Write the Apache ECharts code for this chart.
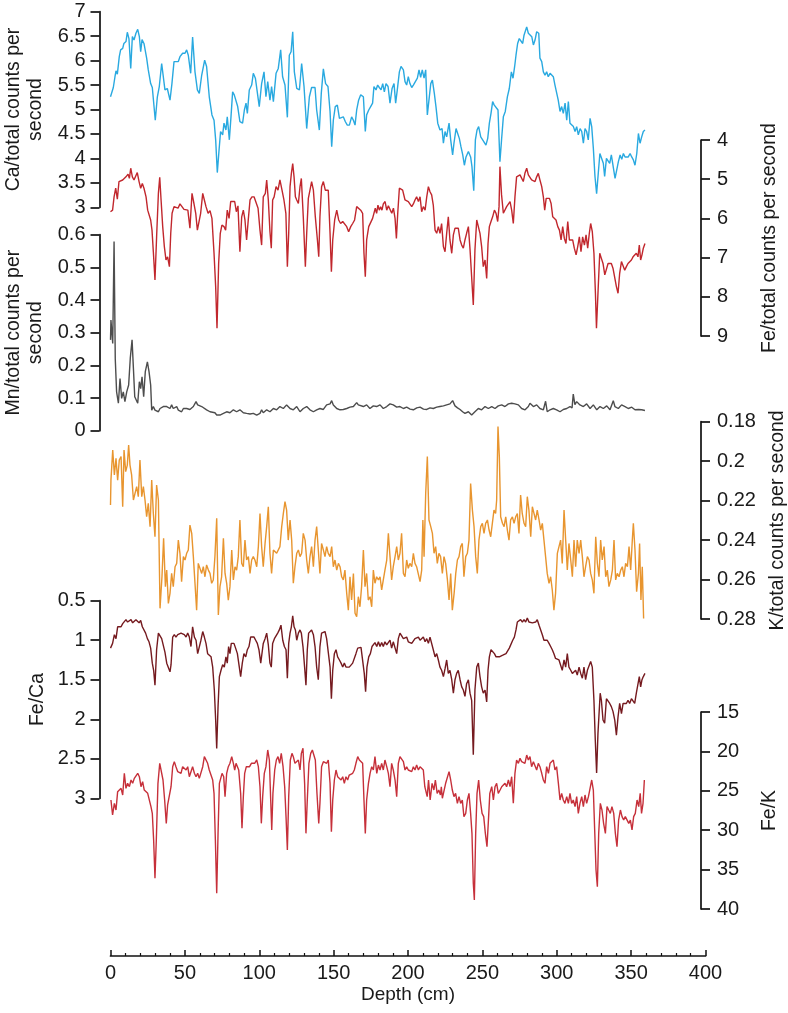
<!DOCTYPE html>
<html><head><meta charset="utf-8">
<script src="https://cdn.jsdelivr.net/npm/echarts@6/dist/echarts.min.js"></script>
<style>html,body{margin:0;padding:0;background:#fff}#c{width:788px;height:1013px}</style>
</head><body><div id="c"></div><script>
// Depth (cm) tick labels
const depthTicks = [0,50,100,150,200,250,300,350,400];

// Ca/total counts per second  [depth, value]
const ca = [[0,5.26],[1.9,5.45],[3,5.67],[3.7,5.79],[4.6,5.72],[5.9,6.08],[6.8,6.22],[8.2,6.25],[9,6.35],[10.4,6.39],[11.3,6.58],[12.4,6.45],[13.6,5.84],[14.7,6.49],[15.8,6.42],[17.1,6.56],[18.3,6.64],[19.4,6.49],[20.3,6.18],[21.2,6.43],[22.5,6.35],[24.3,6.05],[25.4,5.81],[27,5.53],[28.1,5.45],[30.1,4.78],[31.5,5.26],[32.8,5.47],[34.4,5.94],[35.5,5.98],[36.6,5.40],[38.2,5.43],[40,5.19],[41.3,5.53],[42.7,5.98],[44,6.01],[45.6,5.98],[46.7,6.08],[48.5,6.15],[50.1,6.15],[51.2,6.22],[52.3,6.11],[53.9,5.74],[55.2,6.48],[56.8,5.77],[58.4,5.40],[59.7,5.33],[61.3,5.70],[63.3,6.01],[64.6,5.88],[66.4,5.26],[68.2,4.89],[69.6,4.78],[70.7,4.38],[71.8,3.71],[72.9,4.14],[74,4.55],[75.4,4.48],[76.3,4.72],[77.6,4.58],[78.5,4.85],[79.9,4.38],[81,4.85],[82.1,5.36],[83.2,5.30],[84.4,5.26],[85.5,5.06],[87,4.75],[88.8,4.72],[90,4.99],[91.1,5.13],[92,4.92],[93.3,5.40],[94.9,5.50],[96,5.74],[97.4,5.64],[98.7,5.60],[100,5.06],[101.6,5.53],[103.2,5.77],[104.5,5.26],[105.7,5.57],[107.2,5.19],[108.3,5.47],[109.5,5.16],[111.3,5.74],[112.8,5.84],[114.4,6.22],[115.7,5.67],[117.3,5.50],[118.9,4.84],[120.2,6.11],[121.4,6.18],[122.5,6.59],[123.6,5.77],[125.2,5.43],[127,5.40],[128.5,5.94],[130.1,5.47],[131.9,4.61],[133.7,5.26],[135.2,5.45],[137.5,5.45],[138.6,4.99],[140.4,4.58],[141.7,5.33],[143.1,5.83],[144.6,5.53],[146.2,5.47],[147.6,4.96],[148.7,4.24],[149.8,4.78],[151.1,5.06],[152.5,5.09],[153.9,4.82],[155.2,4.78],[156.5,4.85],[157.9,4.75],[159.2,4.68],[160.6,4.68],[162.1,4.85],[163.3,4.78],[164.4,4.68],[165.5,4.99],[166.8,5.19],[168.2,5.30],[170,5.26],[171.3,4.55],[172.2,4.89],[173.6,4.99],[174.9,5.06],[176.2,5.13],[177.1,5.47],[178.5,5.40],[179.6,5.50],[180.7,5.45],[181.9,5.40],[183,5.53],[184.1,5.36],[185.2,5.53],[186.6,5.47],[187.9,5.13],[189.3,5.43],[190.6,5.53],[191.7,5.13],[192.8,5.40],[194.2,5.77],[195.3,5.88],[196.9,5.81],[198,5.57],[199.1,5.50],[200.2,5.67],[201.3,5.53],[202.5,5.45],[203.6,5.50],[204.7,5.53],[206.3,5.64],[207.4,5.81],[208.5,5.66],[209.6,5.81],[210.8,5.64],[211.9,5.81],[213,4.89],[214.1,4.89],[215.3,5.53],[216.4,5.60],[217.7,5.33],[218.8,5.06],[220,4.72],[221.5,4.58],[222.9,4.61],[223.8,4.31],[224.9,4.55],[226,4.44],[227.6,4.72],[228.7,4.38],[230,4.07],[230.9,4.31],[232.3,4.61],[233.4,4.51],[234.5,4.41],[235.6,4.24],[236.8,4.07],[237.9,3.86],[239,4.03],[240.6,4.14],[242.1,4.03],[243,3.83],[244.2,3.34],[245.3,4.38],[246.4,4.58],[247.5,4.65],[248.9,4.44],[250.2,4.38],[251.3,4.34],[252.4,4.27],[253.6,4.41],[254.7,4.72],[255.8,4.92],[256.9,5.16],[258,5.09],[259.2,5.06],[260.5,4.99],[261.8,3.93],[262.9,4.38],[264.1,4.85],[265.4,4.96],[266.8,5.26],[268.1,5.43],[269.5,5.77],[270.6,5.64],[271.7,5.88],[272.6,6.11],[273.7,6.35],[274.8,6.45],[276,6.43],[277.1,6.35],[278,6.52],[278.9,6.49],[279.8,6.69],[280.9,6.56],[282,6.59],[283.2,6.49],[284.3,6.32],[285.4,6.42],[286.5,6.59],[287.9,6.56],[288.7,6.05],[289.9,5.98],[291,5.77],[292.1,5.70],[293.2,5.77],[294.3,5.67],[295.5,5.74],[296.6,5.70],[297.7,5.67],[298.8,5.50],[300,5.47],[301,5.19],[302.2,4.96],[303.3,5.06],[304.4,4.92],[305.6,5.13],[306.7,4.78],[307.8,5.16],[308.9,4.72],[310,4.72],[311.2,4.65],[312.3,4.55],[313.4,4.65],[314.5,4.48],[315.7,4.61],[316.8,4.55],[317.9,4.31],[319,4.61],[320.1,4.55],[321.2,4.38],[322.4,4.82],[323.5,4.65],[324.6,4.21],[325.7,3.63],[326.8,3.28],[327.9,3.69],[329,4.10],[330.2,4.14],[331.3,3.90],[332.2,3.63],[333.4,4.00],[334.5,4.03],[335.6,3.90],[336.7,4.07],[338.1,3.80],[339.2,3.59],[340.3,3.59],[341.4,3.93],[342.6,4.07],[343.7,3.98],[344.8,4.10],[345.9,4.03],[347,4.07],[348.1,4.03],[349.3,4.10],[350.4,4.03],[351.5,3.97],[352.6,3.86],[353.8,4.10],[354.9,4.51],[356,4.31],[357.1,4.44],[358.2,4.55],[359.3,4.58]];

// Fe/total counts per second
const fe = [[0,5.83],[1.4,5.79],[2.4,5.45],[3.5,5.23],[4.6,5.51],[5.7,5.06],[6.8,5.11],[8.2,5.02],[9.3,5.06],[10.4,4.94],[11.8,4.87],[12.7,4.98],[13.6,4.72],[14.7,4.94],[15.8,5.02],[16.7,4.98],[18,4.83],[19.2,5.06],[20.3,5.23],[21.4,5.11],[22.5,5.23],[23.9,5.45],[25,5.79],[25.9,5.74],[27,6.04],[27.9,6.30],[28.8,6.85],[29.9,7.57],[31,6.47],[32.2,5.36],[33.1,4.95],[34,5.53],[35.1,6.21],[36.2,6.72],[37.3,7.06],[38.4,6.98],[39.6,7.23],[40.5,6.38],[41.4,5.87],[42.7,5.70],[44,5.68],[45.4,5.74],[46.7,5.63],[48,5.68],[49.4,5.77],[50.7,5.74],[52,5.79],[53.4,6.25],[54.8,5.36],[56.1,5.62],[57.3,5.87],[58.4,6.30],[59.5,6.25],[60.6,5.87],[62,5.36],[63.1,5.53],[64.2,5.70],[65.6,5.87],[66.9,5.80],[68.2,6.00],[69.6,6.89],[70.7,7.74],[71.6,8.80],[72.7,7.15],[73.8,6.38],[74.9,6.17],[76.3,6.21],[77.4,6.30],[78.5,5.79],[79.7,6.00],[80.8,5.57],[82.1,5.53],[83.5,5.57],[84.6,5.83],[85.7,5.68],[87,6.85],[88.2,5.96],[89.3,5.79],[90.4,6.04],[91.5,6.55],[92.7,6.00],[93.8,5.53],[95.1,5.45],[96.5,5.45],[97.8,5.49],[99.2,5.74],[100.5,6.30],[101.6,6.68],[102.7,5.45],[104.1,5.36],[105,5.02],[106.1,5.53],[107.2,6.34],[108.1,6.76],[109,5.53],[110,5.45],[111.3,5.19],[112.6,5.28],[113.9,5.02],[115.3,5.28],[116.6,5.53],[117.9,5.87],[118.9,7.23],[119.8,6.38],[120.7,5.19],[121.6,4.85],[122.5,4.60],[123.4,4.94],[124.3,5.45],[125.2,5.53],[126.3,5.62],[127.4,5.19],[128.3,4.98],[129.6,5.96],[131,7.23],[131.9,6.38],[133,5.49],[134.1,5.28],[135.2,5.06],[136.4,5.28],[137.7,5.96],[139.1,6.55],[140,6.98],[140.8,5.96],[141.9,5.19],[143.1,5.06],[144.4,5.28],[145.3,5.23],[146.4,5.28],[147.6,6.38],[148.5,7.36],[149.4,6.55],[150.7,6.04],[152.1,5.79],[153.4,6.04],[154.7,6.13],[156.1,6.08],[157.4,6.13],[158.8,6.21],[160.1,6.34],[161.5,6.21],[162.8,6.13],[164.1,6.04],[165.5,5.70],[166.8,5.74],[168.2,5.79],[169.5,5.87],[170.4,6.89],[171.3,7.49],[172.2,6.55],[173.6,6.21],[174.9,6.17],[176.2,6.00],[177.1,6.04],[178,5.74],[178.9,5.87],[179.8,5.66],[180.7,5.79],[181.6,5.70],[182.5,5.79],[183.4,5.63],[184.6,5.57],[185.7,5.79],[186.8,5.68],[188,5.63],[189.1,5.87],[190.2,5.74],[191.3,6.00],[192.2,6.51],[193.1,5.87],[194.2,5.23],[195.3,5.21],[196.4,5.28],[198,5.53],[199.1,5.49],[200.2,5.57],[201.3,5.62],[202.5,5.70],[203.6,5.63],[204.7,5.53],[205.8,5.45],[207,5.57],[208.1,5.45],[209.2,5.83],[210.3,5.70],[211.5,5.79],[212.6,5.45],[213.7,5.19],[214.8,5.32],[215.9,5.40],[217,5.66],[218.2,6.30],[219.3,6.38],[220.4,6.21],[221.5,6.38],[222.6,6.13],[223.8,6.72],[224.9,6.85],[226,6.38],[227.1,5.96],[228.2,6.55],[229.4,6.89],[230.5,6.42],[231.6,6.25],[232.7,6.30],[233.8,6.25],[235,6.55],[236.1,6.68],[237.2,6.76],[238.3,6.55],[239.4,6.38],[240.6,6.21],[241.7,6.79],[242.8,6.76],[243.9,8.21],[245,6.81],[246.2,6.04],[247.3,6.08],[248.4,6.38],[249.5,6.72],[250.6,7.23],[251.8,7.06],[252.9,7.53],[253.8,6.64],[254.7,6.21],[255.8,6.08],[256.9,5.96],[258.1,5.79],[259.2,5.87],[260.3,6.08],[261.2,5.70],[261.8,4.68],[262.9,5.40],[264.1,5.87],[265.2,5.87],[266.3,5.70],[267.4,5.74],[268.6,5.57],[269.7,5.79],[270.8,6.13],[271.9,5.45],[273,4.94],[274.2,4.89],[275.3,4.89],[276.4,4.85],[277.5,5.06],[278.6,4.85],[279.8,4.72],[280.9,4.89],[282,4.94],[283.1,5.02],[284.3,4.98],[285.4,5.06],[286.5,4.94],[287.6,4.85],[288.7,5.02],[289.9,5.19],[291,5.45],[291.9,5.79],[292.9,5.49],[294,5.53],[295.1,5.49],[296.2,5.62],[297.3,5.96],[298.4,6.00],[299.5,6.04],[300.7,6.21],[301.8,6.30],[302.9,6.55],[304,6.21],[305.1,6.51],[306.2,6.64],[307.4,6.08],[308.5,6.55],[309.6,6.59],[310.7,6.55],[311.8,6.76],[313,6.93],[314.1,6.72],[315.2,6.47],[316.3,6.85],[317.4,6.47],[318.6,6.68],[319.7,6.42],[320.8,6.76],[321.9,6.38],[322.8,6.13],[323.9,6.34],[325,6.89],[326,7.91],[326.7,8.80],[327.8,7.83],[328.9,6.89],[330,7.02],[331.1,7.15],[332.3,7.44],[333.4,7.49],[334.5,7.15],[335.6,7.10],[336.7,7.15],[337.8,7.27],[339,7.23],[340.1,7.74],[341.2,7.91],[342.3,7.40],[343.5,7.10],[344.6,7.15],[345.7,7.32],[346.8,7.23],[347.9,7.15],[349,7.19],[350.2,7.06],[351.3,6.98],[352.4,7.02],[353.5,6.89],[354.6,6.98],[355.5,6.68],[356.4,7.06],[357.3,6.93],[358.2,6.76],[359.3,6.64]];

// Mn/total counts per second
const mn = [[0,0.278],[0.3,0.339],[1.5,0.267],[2.4,0.579],[3.2,0.22],[4.1,0.119],[5.3,0.084],[6.4,0.160],[7.5,0.099],[8.6,0.119],[9.7,0.089],[10.9,0.119],[12.2,0.140],[13.3,0.222],[14.5,0.278],[15.4,0.191],[16.3,0.104],[17.3,0.104],[18.3,0.084],[19.4,0.150],[20.3,0.129],[21.2,0.165],[22.3,0.104],[23.4,0.181],[24.8,0.211],[25.9,0.181],[27,0.140],[27.7,0.063],[28.8,0.074],[29.9,0.063],[31,0.068],[32.2,0.058],[33.3,0.068],[34.4,0.063],[35.5,0.074],[36.6,0.068],[37.8,0.074],[38.9,0.079],[40,0.068],[41.1,0.079],[42.2,0.068],[43.4,0.063],[44.5,0.074],[45.6,0.063],[46.7,0.068],[47.8,0.058],[49,0.068],[50.1,0.063],[51.2,0.068],[52.3,0.063],[53.4,0.065],[55.7,0.074],[57.5,0.089],[58.6,0.079],[59.7,0.082],[61.3,0.074],[62.4,0.072],[64.6,0.064],[66.9,0.058],[70.2,0.055],[71.4,0.048],[73.6,0.048],[75.9,0.053],[78.1,0.058],[80.3,0.055],[82.6,0.064],[84.8,0.058],[87,0.064],[89.3,0.055],[91.5,0.053],[93.8,0.051],[96,0.053],[98.3,0.048],[100.5,0.053],[101.6,0.064],[102.7,0.055],[105,0.064],[107.2,0.058],[109.5,0.068],[111.7,0.064],[113.9,0.074],[116.2,0.068],[118.4,0.079],[120.7,0.068],[122.9,0.064],[125.2,0.074],[127.4,0.058],[129.6,0.068],[131.9,0.074],[134.1,0.064],[136.4,0.058],[138.6,0.064],[140.8,0.068],[143.1,0.065],[145.3,0.079],[147.6,0.082],[148.7,0.092],[149.8,0.079],[152.1,0.068],[154.3,0.064],[156.5,0.065],[158.8,0.068],[161,0.072],[163.3,0.074],[165.5,0.086],[166.6,0.079],[167.7,0.084],[170,0.074],[172.2,0.079],[174.4,0.068],[176.7,0.076],[178.9,0.074],[181.2,0.079],[183.4,0.068],[185.7,0.074],[187.9,0.082],[190.1,0.079],[192.4,0.072],[194.6,0.074],[196.9,0.068],[199.1,0.072],[201.4,0.066],[203.6,0.064],[205.9,0.07],[208.1,0.072],[210.4,0.066],[212.6,0.065],[214.8,0.07],[217,0.068],[219.3,0.072],[221.5,0.074],[223.8,0.076],[226,0.079],[228.2,0.082],[230,0.092],[231.6,0.076],[233.3,0.07],[235,0.065],[236.7,0.058],[238.3,0.053],[240.6,0.058],[242.8,0.048],[245,0.058],[247.3,0.068],[249.5,0.064],[251.8,0.074],[254,0.068],[256.3,0.074],[258.5,0.068],[260.7,0.076],[263,0.079],[265.2,0.074],[267.5,0.082],[268.6,0.086],[269.7,0.084],[271.9,0.082],[274.2,0.079],[276.4,0.068],[278.7,0.064],[280.9,0.074],[282,0.084],[284.3,0.074],[286.5,0.079],[288.7,0.068],[291,0.064],[292.5,0.09],[293.6,0.058],[295.5,0.064],[297.7,0.068],[299.9,0.064],[302.2,0.058],[304.4,0.065],[306.7,0.068],[308.9,0.074],[310.3,0.07],[311.1,0.112],[312.2,0.08],[313.4,0.089],[314.5,0.094],[315.6,0.079],[317.9,0.074],[320.1,0.082],[322.4,0.068],[324.6,0.079],[326.9,0.064],[329.1,0.074],[331.3,0.068],[333.6,0.076],[335.8,0.064],[338,0.092],[339.1,0.074],[341.4,0.068],[343.6,0.079],[345.9,0.074],[348.1,0.068],[350.4,0.072],[352.6,0.064],[354.9,0.065],[357.1,0.064],[359.3,0.062]];

// K/total counts per second
const kk = [[0,0.2222],[0.3,0.2096],[1.5,0.1944],[2.6,0.207],[3.7,0.1986],[4.8,0.2096],[5.9,0.1994],[7.1,0.1977],[8.2,0.2231],[9.1,0.1944],[10.2,0.2053],[11.3,0.202],[12.2,0.1918],[13.1,0.202],[14.2,0.207],[15.4,0.2197],[16.5,0.2205],[17.6,0.2129],[18.7,0.218],[19.8,0.1994],[21,0.218],[22.1,0.2129],[23.2,0.2197],[24.3,0.2281],[25.4,0.2214],[26.6,0.2332],[27.7,0.2096],[28.8,0.2265],[29.9,0.2383],[31,0.2121],[32.2,0.2197],[33.3,0.2746],[34.6,0.2586],[35.7,0.2391],[36.9,0.2636],[37.8,0.2552],[38.9,0.2721],[40,0.267],[41.1,0.2569],[42.2,0.2636],[43.4,0.2535],[44.5,0.2518],[45.6,0.24],[46.7,0.2467],[47.8,0.2611],[49,0.2484],[50.1,0.2501],[51.2,0.2467],[52.3,0.245],[53.4,0.2324],[54.6,0.2366],[55.7,0.2484],[56.8,0.2619],[57.9,0.2755],[59,0.2518],[60.2,0.2526],[61.3,0.2569],[62.4,0.2535],[63.5,0.2586],[64.6,0.2526],[65.8,0.2552],[66.9,0.2569],[68,0.2619],[69.1,0.2602],[70.2,0.2484],[71.4,0.229],[72.5,0.278],[73.6,0.2636],[74.7,0.2586],[75.9,0.2391],[77,0.2569],[78.1,0.2619],[79.2,0.2704],[80.3,0.2636],[81.5,0.245],[82.6,0.2602],[83.7,0.2535],[84.8,0.2552],[85.9,0.2484],[87,0.2298],[88.2,0.2518],[89.3,0.2535],[90.4,0.24],[91.5,0.2501],[92.7,0.2484],[93.8,0.2569],[94.9,0.2501],[96,0.2484],[97.1,0.2501],[98.3,0.2535],[99.4,0.2433],[100.5,0.2265],[101.6,0.2433],[102.7,0.2535],[103.9,0.2417],[105,0.2332],[106.1,0.2231],[107.2,0.2467],[108.3,0.2569],[109.5,0.245],[110.6,0.2459],[111.7,0.2467],[112.8,0.2467],[113.9,0.2433],[115.1,0.2332],[116.2,0.2265],[117.3,0.2205],[118.4,0.2248],[119.5,0.24],[120.7,0.2298],[121.8,0.24],[122.9,0.2619],[124,0.2535],[125.2,0.2467],[126.3,0.245],[127.4,0.2484],[128.5,0.2467],[129.6,0.2366],[130.8,0.24],[131.9,0.2501],[133,0.2569],[134.1,0.2484],[135.2,0.2433],[136.4,0.2535],[137.5,0.24],[138.6,0.2332],[139.7,0.245],[140.8,0.2569],[141.9,0.2417],[143.1,0.245],[144.2,0.2484],[145.3,0.2433],[146.4,0.2467],[147.6,0.2484],[148.7,0.2433],[149.8,0.2535],[150.9,0.2501],[152.1,0.2552],[153.2,0.2518],[154.3,0.2535],[155.4,0.2586],[156.5,0.2602],[157.6,0.2552],[158.8,0.267],[159.9,0.2755],[161,0.2586],[162.1,0.2704],[163.3,0.2569],[164.4,0.2771],[165.5,0.2788],[166.6,0.2687],[167.7,0.2738],[168.8,0.2636],[170,0.245],[171.1,0.2636],[172.2,0.2569],[173.3,0.2704],[174.5,0.2687],[175.6,0.2738],[176.7,0.2552],[177.8,0.2619],[178.9,0.2586],[180.1,0.2602],[181.2,0.2586],[182.3,0.2653],[183.4,0.2602],[184.5,0.2552],[185.7,0.2501],[186.8,0.2366],[187.9,0.2484],[189,0.2602],[190.1,0.2535],[191.3,0.2484],[192.4,0.2433],[193.5,0.2501],[194.6,0.2467],[195.7,0.2366],[196.9,0.2569],[198,0.2586],[199.1,0.2501],[200.2,0.2543],[201.3,0.2518],[202.5,0.2535],[203.6,0.2467],[204.7,0.2518],[205.8,0.2535],[207,0.2526],[208.1,0.2611],[209.2,0.2552],[210,0.2298],[210.8,0.2484],[211.9,0.2163],[213,0.1977],[214.1,0.2298],[215.3,0.2332],[216.4,0.2366],[217.5,0.2467],[218.6,0.2433],[219.7,0.2518],[220.8,0.2467],[221.9,0.2484],[223.1,0.2569],[224.2,0.2484],[225.3,0.2518],[226.5,0.2602],[227.6,0.2704],[228.7,0.2569],[229.8,0.2755],[231,0.267],[232.1,0.2569],[233.2,0.2501],[234.3,0.2484],[235.4,0.2433],[236.5,0.2417],[237.6,0.2586],[238.8,0.2484],[239.9,0.2467],[241,0.24],[242.1,0.2113],[243.3,0.2248],[244.4,0.2332],[245.5,0.2484],[246.6,0.2569],[247.7,0.24],[248.9,0.2332],[250,0.2315],[251.1,0.2366],[252.2,0.2315],[253.4,0.2298],[254.5,0.2349],[255.6,0.2383],[256.7,0.2315],[257.8,0.2248],[258.9,0.2265],[259.6,0.2197],[260.5,0.1825],[261.4,0.1977],[262.3,0.2282],[263.5,0.2315],[264.6,0.2332],[265.7,0.2282],[266.8,0.2349],[267.9,0.24],[269,0.2298],[270.2,0.2282],[271.3,0.2315],[272.4,0.2282],[273.5,0.2265],[274.6,0.2366],[275.7,0.2172],[276.8,0.2265],[278,0.2315],[279.1,0.2332],[280.2,0.218],[281.3,0.2248],[282.5,0.2383],[283.6,0.2231],[284.7,0.2265],[285.8,0.2298],[286.9,0.2248],[288.1,0.2298],[289.2,0.2349],[290.3,0.2315],[291.4,0.24],[292.5,0.2484],[293.6,0.2569],[294.8,0.2619],[295.9,0.2586],[297,0.2653],[298.1,0.2755],[299.2,0.267],[300.4,0.2467],[301.5,0.2433],[302.6,0.24],[303.7,0.2518],[304.9,0.2248],[306,0.24],[307.1,0.2552],[308.2,0.2417],[309.4,0.2501],[310.5,0.2586],[311.6,0.24],[312.7,0.2535],[313.8,0.24],[315,0.2467],[316.1,0.24],[317.2,0.2484],[318.3,0.2586],[319.4,0.2535],[320.6,0.2484],[321.7,0.2501],[322.8,0.2569],[323.9,0.2602],[325,0.267],[326.2,0.2383],[327.3,0.2518],[328.4,0.2586],[329.5,0.24],[330.6,0.2501],[331.8,0.2433],[332.9,0.2586],[334,0.2552],[335.1,0.2636],[336.3,0.2602],[337.4,0.2552],[338.5,0.24],[339.6,0.2602],[340.7,0.2569],[341.9,0.2586],[343,0.2552],[344.1,0.2535],[345.2,0.2586],[346.3,0.2518],[347.5,0.2535],[348.6,0.2433],[349.7,0.2552],[350.8,0.24],[351.5,0.2315],[352.6,0.245],[353.7,0.2662],[354.9,0.2569],[355.7,0.2417],[356.6,0.2704],[357.5,0.2535],[358.4,0.2797]];

// Fe/Ca
const feca = [[0,1.10],[1.4,1.04],[2.6,0.93],[3.7,0.98],[4.8,0.83],[5.9,0.81],[7.1,0.83],[8.2,0.79],[9.3,0.77],[10.4,0.74],[11.5,0.77],[12.7,0.79],[13.8,0.74],[14.9,0.78],[16,0.80],[17.1,0.74],[18,0.72],[19.2,0.78],[20.3,0.75],[21.4,0.83],[22.5,0.82],[23.6,0.91],[24.8,0.98],[25.9,1.02],[27,1.10],[28.1,1.29],[29,1.38],[29.9,1.57],[31,1.12],[32.2,0.91],[33.3,0.89],[34.4,0.98],[35.5,1.00],[36.6,1.15],[37.8,1.29],[38.9,1.27],[40,1.40],[40.7,1.31],[41.8,0.96],[42.9,0.93],[44,0.96],[45.2,0.93],[46.3,0.95],[47.4,0.91],[48.5,0.93],[49.6,0.93],[50.8,0.96],[51.9,0.91],[53,0.96],[54.1,1.08],[55.2,0.83],[56.4,0.96],[57.5,1.00],[58.6,1.17],[59.7,1.17],[60.8,1.00],[62,0.89],[63.1,0.96],[64.2,1.04],[65.3,1.17],[66.4,1.19],[67.6,1.21],[68.7,1.34],[69.8,1.63],[70.7,2.01],[71.4,2.37],[72.3,1.84],[73.2,1.46],[74.3,1.38],[75.4,1.31],[76.5,1.34],[77.6,1.21],[78.5,1.29],[79.4,1.08],[80.3,1.17],[81.2,1.04],[82.1,1.06],[83,1.04],[84.1,1.10],[85.3,1.17],[86.4,1.15],[87.5,1.46],[88.6,1.29],[89.7,1.17],[90.9,1.21],[92,1.12],[93.1,1.08],[94.2,0.96],[95.3,0.98],[96.5,0.96],[97.6,1.00],[98.7,1.04],[99.8,1.12],[101,1.29],[101.9,1.31],[102.7,1.04],[103.9,0.98],[105,0.91],[106.1,1.06],[107.2,1.29],[108.1,1.34],[109,1.04],[110.2,0.98],[111.3,0.96],[112.4,0.91],[113.5,0.87],[114.6,0.81],[115.8,1.00],[116.9,1.08],[118,1.12],[118.9,1.48],[119.8,1.04],[120.7,0.91],[121.6,0.83],[122.5,0.69],[123.4,0.83],[124.3,0.87],[125.2,1.00],[126.3,0.91],[127.4,0.87],[128.3,0.91],[129.4,1.08],[130.5,1.34],[131.4,1.57],[132.3,1.12],[133.2,0.91],[134.1,0.89],[135.2,0.87],[136.4,0.93],[137.5,1.08],[138.6,1.34],[139.7,1.50],[140.8,1.08],[141.9,0.91],[143.1,0.93],[144.2,0.89],[145.3,0.98],[146.4,0.96],[147.6,1.34],[148.5,1.74],[149.4,1.38],[150.5,1.17],[151.6,1.12],[152.7,1.21],[153.9,1.25],[155,1.29],[156.1,1.34],[157.2,1.29],[158.3,1.34],[159.4,1.36],[160.5,1.34],[161.7,1.36],[162.8,1.29],[163.9,1.27],[165,1.17],[166.2,1.10],[167.3,1.08],[168.4,1.09],[169.5,1.10],[170.6,1.42],[171.5,1.65],[172.4,1.34],[173.6,1.21],[174.7,1.17],[175.8,1.08],[177,1.10],[177.8,1.03],[179,1.08],[180.1,1.02],[181.2,1.08],[182.3,1.03],[183.4,1.08],[184.5,1.02],[185.7,1.06],[186.8,1.04],[187.9,1.00],[189,1.10],[190.1,1.02],[191.3,1.04],[192.4,1.17],[193.5,0.98],[194.6,0.91],[195.7,0.93],[196.9,0.98],[198,1.00],[199.1,0.96],[200.2,1.02],[201.3,1.04],[202.5,1.04],[203.6,1.02],[204.7,0.98],[205.8,1.00],[207,0.96],[208.1,1.00],[209.2,1.02],[210.3,0.96],[211.5,1.02],[212.6,0.98],[213.7,1.04],[214.8,0.96],[215.9,0.98],[217,1.12],[218.2,1.21],[219.3,1.17],[220.4,1.25],[221.5,1.34],[222.6,1.38],[223.8,1.46],[224.9,1.36],[226,1.25],[227.1,1.42],[228.2,1.38],[229.4,1.50],[230.5,1.67],[231.6,1.50],[232.7,1.42],[233.8,1.38],[235,1.50],[236.1,1.59],[237.2,1.63],[238.3,1.71],[239.4,1.55],[240.6,1.50],[241.7,1.67],[242.8,1.76],[243.9,2.45],[245,1.63],[246.2,1.34],[247.3,1.29],[248.4,1.46],[249.5,1.59],[250.6,1.67],[251.8,1.63],[252.9,1.78],[253.8,1.38],[254.7,1.21],[255.8,1.12],[256.9,1.10],[258.1,1.17],[259.2,1.21],[260.3,1.19],[261.4,1.21],[262.5,1.20],[263.7,1.19],[264.8,1.21],[265.9,1.17],[267,1.19],[268.1,1.10],[269.3,1.08],[270.4,1.00],[271.5,0.96],[272.6,0.87],[273.5,0.77],[274.6,0.78],[275.7,0.74],[276.9,0.77],[278,0.74],[279.1,0.77],[280.2,0.72],[281.3,0.77],[282.5,0.75],[283.6,0.78],[284.7,0.80],[285.8,0.77],[286.9,0.74],[288.1,0.81],[289.2,0.87],[290.3,0.93],[291.4,1.00],[292.5,0.98],[293.6,1.00],[294.8,1.04],[295.9,1.08],[297,1.12],[298.1,1.17],[299.2,1.23],[300.4,1.21],[301.5,1.25],[302.6,1.25],[303.7,1.38],[304.9,1.25],[306,1.34],[307.1,1.17],[308.2,1.34],[309.4,1.38],[310.5,1.42],[311.6,1.42],[312.7,1.38],[313.8,1.44],[315,1.34],[316.1,1.42],[317.2,1.48],[318.3,1.34],[319.4,1.50],[320.6,1.38],[321.7,1.38],[322.8,1.27],[323.9,1.34],[325,1.76],[325.9,2.26],[326.8,2.68],[327.7,2.18],[329.2,1.67],[330,1.76],[331.1,2.01],[332.2,2.05],[333.4,1.74],[334.5,1.76],[335.6,1.80],[336.7,1.84],[337.8,1.90],[339,2.01],[340.1,2.20],[341.2,1.97],[342.3,1.80],[343.5,1.93],[344.6,1.80],[345.7,1.78],[346.8,1.80],[347.9,1.76],[349,1.80],[350.2,1.74],[351.3,1.76],[352.4,1.80],[353.5,1.67],[354.6,1.67],[355.5,1.46],[356.4,1.59],[357.3,1.50],[358.2,1.46],[359.3,1.42]];

// Fe/K
const fek = [[0.3,26.17],[1.4,28.07],[2.6,26.59],[3.7,27.44],[4.8,25.11],[5.9,25.32],[7.1,24.69],[8.2,25.53],[9.3,22.78],[10.4,24.69],[11.5,24.05],[12.7,24.48],[13.8,23.63],[14.9,24.05],[16,23.42],[17.1,23.21],[18.3,22.78],[19.4,23.21],[20.5,24.48],[21.6,23.84],[22.7,24.90],[23.9,24.69],[25,25.32],[26.1,25.32],[27.2,27.01],[28.1,27.86],[29,31.24],[29.9,36.11],[30.8,31.24],[31.9,24.05],[33.1,21.51],[34.2,21.51],[35.3,23.63],[36.4,26.17],[37.5,29.13],[38.4,26.80],[39.6,26.59],[40.7,24.48],[41.8,21.94],[42.9,21.30],[44,21.94],[45.2,22.57],[46.3,22.36],[47.4,22.78],[48.5,21.94],[49.6,22.15],[50.8,22.36],[51.9,21.94],[53,23.21],[54.1,23.42],[55.2,21.94],[56.4,22.78],[57.5,23.21],[58.6,22.78],[59.7,23.42],[60.8,23.63],[62,21.94],[63.1,20.67],[64.2,20.88],[65.3,21.51],[66.4,22.36],[67.6,22.36],[68.7,23.63],[69.6,25.32],[70.5,31.24],[71.4,38.01],[72.3,30.40],[73.2,24.05],[74.1,23.84],[75,22.78],[76.1,23.21],[77,25.74],[78.1,22.78],[79.2,21.94],[80.3,21.51],[81.5,20.67],[82.6,21.51],[83.5,22.36],[84.4,21.51],[85.3,21.73],[86.2,22.36],[87.5,25.32],[88.4,29.76],[89.3,25.74],[90.2,22.78],[91.3,21.94],[92.4,21.73],[93.5,21.94],[94.7,21.51],[95.8,21.73],[96.9,21.51],[98.3,21.09],[99.4,21.94],[100.5,24.48],[101.4,29.13],[102.3,25.74],[103.4,22.78],[104.5,21.94],[105.7,19.82],[106.8,21.09],[107.7,26.17],[108.4,29.97],[109.2,25.32],[110.4,22.36],[111.5,21.09],[112.6,20.67],[113.7,21.51],[114.8,20.25],[116,21.94],[117.1,24.48],[118,28.28],[118.9,32.51],[119.8,25.74],[120.9,21.09],[122,20.25],[122.9,20.67],[124,21.51],[125.2,21.51],[126.3,21.09],[127.4,22.36],[128.3,20.25],[129.4,19.61],[130.5,24.05],[131.4,30.40],[132.3,26.17],[133.4,21.51],[134.6,20.25],[135.7,19.82],[136.6,19.61],[137.7,21.09],[138.8,25.32],[140,29.13],[140.8,26.59],[141.9,21.94],[143.1,21.30],[144.2,21.09],[145.3,21.51],[146.4,21.09],[147.6,24.05],[148.5,30.19],[149.4,26.17],[150.5,23.63],[151.6,22.36],[152.7,23.21],[153.9,23.00],[155,23.63],[156.1,23.21],[157.2,24.05],[158.3,23.21],[159.4,23.63],[160.5,23.00],[161.7,23.21],[162.8,22.78],[163.9,22.36],[165,21.51],[166.2,20.67],[167.3,21.09],[168.4,21.30],[169.5,21.51],[170.4,26.17],[171.3,30.40],[172.2,26.17],[173.4,24.05],[174.5,22.78],[175.6,21.94],[176.7,22.36],[177.8,20.67],[179,22.78],[180.1,21.73],[181.2,22.36],[182.3,21.51],[183.4,22.36],[184.5,21.09],[185.7,21.94],[186.8,22.78],[187.9,24.48],[189,21.51],[190.1,22.36],[191.3,23.63],[192.4,25.74],[193.5,21.51],[194.6,20.67],[195.7,20.67],[196.9,21.30],[198,22.36],[199.1,21.94],[200.2,22.36],[201.3,22.15],[202.5,22.57],[203.6,21.94],[204.7,22.36],[205.8,21.73],[207,22.36],[208.1,21.94],[209.2,22.15],[210.3,22.36],[211.3,24.48],[212.9,25.74],[213.8,23.63],[214.9,26.17],[216.2,24.05],[217.4,24.90],[218.4,23.63],[219.6,25.32],[220.7,24.90],[221.8,25.53],[222.4,24.48],[223.1,25.95],[224.2,25.74],[225.3,24.05],[226.5,24.05],[227.6,22.57],[228.7,23.63],[229.8,24.90],[230.9,25.74],[232,25.32],[233.2,26.59],[234.3,25.74],[235.4,26.59],[236.5,26.17],[237.6,28.28],[238.8,27.86],[239.9,26.17],[241,25.32],[242.1,27.86],[243,30.40],[243.9,36.74],[244.6,38.86],[245.5,30.40],[246.4,25.32],[247.5,23.63],[248.6,26.17],[249.8,27.86],[250.9,28.28],[252,30.40],[253.1,32.09],[254.2,28.28],[255,25.32],[256.3,24.48],[257.4,26.17],[258.5,24.48],[259.6,24.05],[260.7,25.32],[261.9,24.90],[263,24.48],[264.1,24.69],[265.2,24.05],[266.3,24.48],[267.5,23.63],[268.6,24.48],[269.7,23.21],[270.8,26.59],[271.9,22.78],[273,21.09],[274.2,21.51],[275.3,20.88],[276.4,21.30],[277.5,21.30],[278.6,21.51],[279.8,20.46],[280.9,21.09],[282,20.67],[283.1,21.94],[284.3,21.30],[285.4,21.51],[286.5,22.36],[287.6,21.51],[288.7,21.94],[289.9,22.78],[291,23.63],[292.1,24.05],[293.2,21.94],[294.4,22.78],[295.5,21.51],[296.6,21.30],[297.7,21.09],[298.8,22.36],[299.9,21.94],[301.1,24.05],[302.2,26.17],[303.3,25.32],[304.4,26.17],[305.5,26.59],[306.7,25.74],[307.8,26.59],[308.9,25.32],[310,26.59],[311.1,26.17],[312.3,27.01],[313.4,25.74],[314.5,27.86],[315.6,26.59],[316.8,25.74],[317.9,27.01],[319,25.53],[320.1,26.59],[321.3,25.74],[322.4,24.69],[323.5,23.63],[324.6,24.90],[325.5,29.97],[326.4,35.05],[327.3,37.17],[328.2,30.40],[329.3,26.59],[330.4,27.44],[331.5,29.13],[332.7,30.40],[333.8,27.01],[334.9,27.44],[336,27.86],[337.1,27.01],[338.3,27.86],[339.4,30.40],[340.5,32.09],[341.6,28.71],[342.8,27.44],[343.9,28.28],[345,28.71],[346.1,28.28],[347.2,28.28],[348.4,29.13],[349.5,28.71],[350.6,29.97],[351.7,28.28],[352.8,27.86],[354,26.17],[355.1,27.01],[356.1,25.32],[357,27.86],[358,26.59],[358.9,23.63]];

const FONT = '"Liberation Sans", Arial, Helvetica, sans-serif';
const LEFT = 110.5, RIGHT = 788 - 705.5;
const fmt = v => String(parseFloat(Number(v).toFixed(4)));

const panels = [
  {data: ca,   color:'#29A9E0', top:11.7,  bottom:207.3, min:3,    max:7,    interval:0.5,  inverse:false, side:'left',  gap:48, move:true,  name:'Ca/total counts per\nsecond'},
  {data: fe,   color:'#C1272D', top:140,   bottom:336,   min:4,    max:9,    interval:1,    inverse:true,  side:'right', gap:58, move:true,  name:'Fe/total counts per second'},
  {data: mn,   color:'#4D4D4D', top:234.7, bottom:430.7, min:0,    max:0.6,  interval:0.1,  inverse:false, side:'left',  gap:48, move:true,  name:'Mn/total counts per\nsecond'},
  {data: kk,   color:'#E8952F', top:421.7, bottom:619,   min:0.18, max:0.28, interval:0.02, inverse:true,  side:'right', gap:58, move:true,  name:'K/total counts per second'},
  {data: feca, color:'#751A1F', top:600.7, bottom:798.3, min:0.5,  max:3,    interval:0.5,  inverse:true,  side:'left',  gap:51, move:false, name:'Fe/Ca'},
  {data: fek,  color:'#C6303A', top:712,   bottom:909,   min:15,   max:40,   interval:5,    inverse:true,  side:'right', gap:58, move:true,  name:'Fe/K'}
];

const grid = [], xAxis = [], yAxis = [], series = [];
panels.forEach((p, i) => {
  grid.push({left: LEFT, right: RIGHT, top: p.top, height: p.bottom - p.top, containLabel:false, outerBoundsMode:'none'});
  xAxis.push({gridIndex:i, type:'value', min:0, max:400, show:false});
  const isLeft = p.side === 'left';
  yAxis.push({
    gridIndex:i, type:'value', min:p.min, max:p.max, interval:p.interval, inverse:p.inverse,
    position:p.side, offset: isLeft ? 11 : -4.5,
    axisLine:{show:true, onZero:false, lineStyle:{color:'#111', width:1.7}},
    axisTick:{show:true, inside:false, length:9, lineStyle:{color:'#111', width:1.7}},
    axisLabel:{show:true, fontSize:20, color:'#1a1a1a', margin: isLeft ? 14 : 16, fontFamily:FONT, formatter: fmt},
    splitLine:{show:false},
    name:p.name, nameLocation:'middle', nameRotate:90, nameGap: p.gap, nameMoveOverlap: p.move,
    nameTextStyle:{fontSize:19.5, lineHeight:22, color:'#1a1a1a', fontFamily:FONT}
  });
  series.push({
    type:'line', xAxisIndex:i, yAxisIndex:i, data:p.data, showSymbol:false, symbol:'none',
    lineStyle:{color:p.color, width:1.4}, itemStyle:{color:p.color}, silent:true, clip:false
  });
});

// Depth axis grid
const gi = panels.length;
grid.push({left: LEFT, right: RIGHT, top: 900, height: 56, outerBoundsMode:'none'});
xAxis.push({
  gridIndex:gi, type:'value', min:depthTicks[0], max:depthTicks[depthTicks.length-1], interval:50,
  position:'bottom',
  axisLine:{show:true, onZero:false, lineStyle:{color:'#111', width:1.7}},
  axisTick:{show:true, inside:true, length:6, lineStyle:{color:'#111', width:1.5}},
  minorTick:{show:true, splitNumber:5, length:3, lineStyle:{color:'#111', width:1.2}},
  axisLabel:{fontSize:20, color:'#1a1a1a', margin:7, fontFamily:FONT},
  splitLine:{show:false}, minorSplitLine:{show:false},
  name:'Depth (cm)', nameLocation:'middle', nameGap:29,
  nameTextStyle:{fontSize:19, color:'#1a1a1a', fontFamily:FONT}
});
yAxis.push({gridIndex:gi, type:'value', min:0, max:1, show:false});

const chart = echarts.init(document.getElementById('c'), null, {renderer:'canvas'});
chart.setOption({
  animation:false,
  backgroundColor:'#fff',
  textStyle:{fontFamily:FONT},
  grid, xAxis, yAxis, series
});
</script></body></html>
